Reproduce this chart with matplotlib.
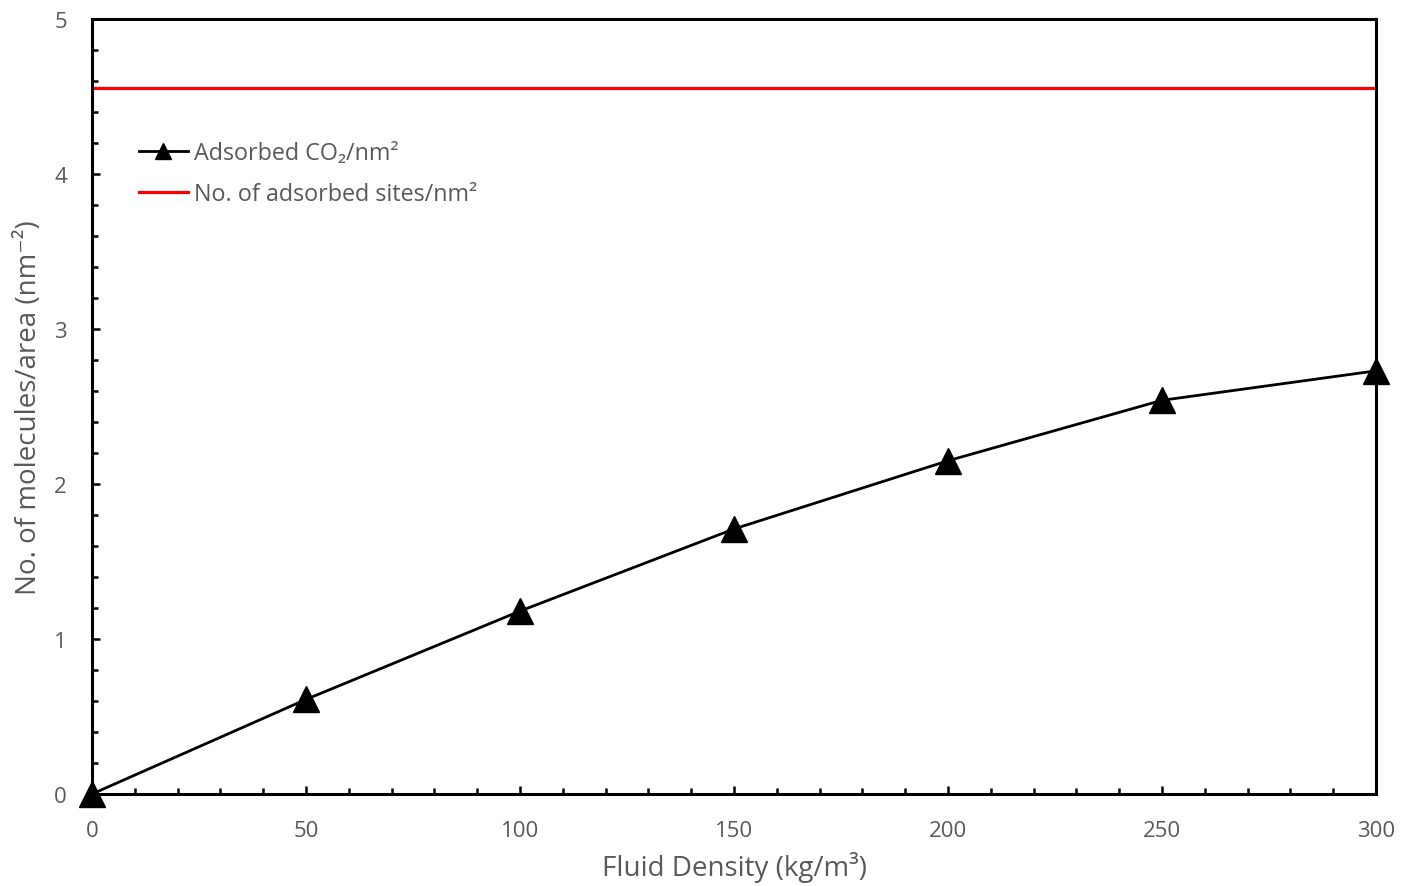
import numpy as np
import matplotlib.pyplot as plt
from matplotlib.ticker import MultipleLocator

plt.rcParams['font.family'] = ['Open Sans', 'DejaVu Sans']

density = [0, 50, 100, 150, 200, 250, 300]
adsorbed = [0.0, 0.61, 1.18, 1.71, 2.15, 2.54, 2.73]
sites = 4.555

gray = '#595959'

fig = plt.figure(figsize=(14.03, 8.87), dpi=100)
ax = fig.add_axes([92/1403, 1-795/887, (1376-92)/1403, (795-20)/887])

ax.plot(density, adsorbed, color='black', lw=2.0, marker='^', ms=19,
        clip_on=False, zorder=5, label='Adsorbed CO\u2082/nm\u00b2')
ax.axhline(sites, color='#ff0000', lw=2.3, label='No. of adsorbed sites/nm\u00b2')

ax.set_xlim(0, 300)
ax.set_ylim(0, 5)
ax.xaxis.set_major_locator(MultipleLocator(50))
ax.xaxis.set_minor_locator(MultipleLocator(10))
ax.yaxis.set_major_locator(MultipleLocator(1))
ax.yaxis.set_minor_locator(MultipleLocator(0.2))

for s in ax.spines.values():
    s.set_linewidth(2.2)

ax.tick_params(which='both', direction='in', width=1.8, colors='black',
               labelcolor=gray, labelsize=16)
ax.tick_params(which='major', length=6)
ax.tick_params(which='minor', length=4.5)
ax.tick_params(axis='x', pad=19)
ax.tick_params(axis='y', pad=18)

ax.set_xlabel('Fluid Density (kg/m\u00b3)', color=gray, fontsize=20, labelpad=7)
ax.set_ylabel('No. of molecules/area (nm\u207b\u00b2)', color=gray, fontsize=20, labelpad=8)

leg = ax.legend(loc='upper left', bbox_to_anchor=(0.02, 0.87), frameon=False,
                fontsize=16.8, handlelength=2.1, handletextpad=0.25, labelspacing=0.75,
                labelcolor=gray)
leg.legend_handles[0].set_markersize(12)

fig.savefig('out.png', dpi=100)
